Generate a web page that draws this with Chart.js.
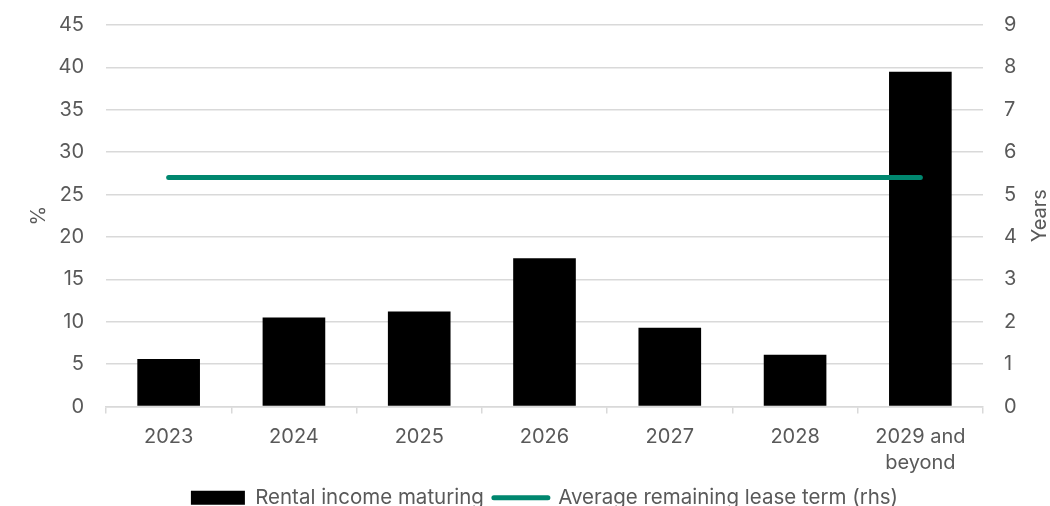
<!DOCTYPE html>
<html lang="en">
<head>
    <meta charset="UTF-8">
    <title>Rental income maturity profile</title>
    <script src="https://cdn.jsdelivr.net/npm/chart.js"></script>
    <style>
        html, body { margin: 0; padding: 0; background: #fff; overflow: hidden; }
        .wrap { width: 1050px; height: 506px; overflow: hidden; }
    </style>
</head>
<body>
    <div class="wrap">
        <canvas id="lease-chart" width="1050" height="518"></canvas>
    </div>

    <script>
        const years = ['2023', '2024', '2025', '2026', '2027', '2028', ['2029 and', 'beyond']];
        const rentalIncome = [5.6, 10.5, 11.2, 17.5, 9.3, 6.1, 39.5];
        const avgLeaseTerm = [5.4, 5.4, 5.4, 5.4, 5.4, 5.4, 5.4];

        const textColor = '#595959';
        const gridColor = '#d9d9d9';
        const teal = '#00876f';
        const font = { family: 'Inter', size: 20, lineHeight: 1.3 };

        // right-hand axis title reads bottom-to-top, so draw it by hand
        const rightTitle = {
            id: 'rightTitle',
            afterDraw(chart) {
                const ctx = chart.ctx;
                const area = chart.chartArea;
                ctx.save();
                ctx.translate(1040, (area.top + area.bottom) / 2);
                ctx.rotate(-Math.PI / 2);
                ctx.fillStyle = textColor;
                ctx.font = '20px Inter';
                ctx.textAlign = 'center';
                ctx.textBaseline = 'middle';
                ctx.fillText('Years', 0, 0);
                ctx.restore();
            }
        };

        new Chart(document.getElementById('lease-chart'), {
            data: {
                labels: years,
                datasets: [
                    {
                        type: 'line',
                        label: 'Average remaining lease term (rhs)',
                        data: avgLeaseTerm,
                        yAxisID: 'y2',
                        borderColor: teal,
                        backgroundColor: teal,
                        borderWidth: 5,
                        borderCapStyle: 'round',
                        pointRadius: 0,
                        order: 0
                    },
                    {
                        type: 'bar',
                        label: 'Rental income maturing',
                        data: rentalIncome,
                        yAxisID: 'y',
                        backgroundColor: '#000',
                        barPercentage: 0.5,
                        categoryPercentage: 1,
                        order: 1
                    }
                ]
            },
            options: {
                responsive: false,
                animation: false,
                layout: { padding: 0 },
                plugins: {
                    tooltip: { enabled: false },
                    legend: {
                        position: 'bottom',
                        fullSize: false,
                        labels: {
                            color: textColor,
                            font: { family: 'Inter', size: 20.5 },
                            usePointStyle: true,
                            pointStyleWidth: 54,
                            boxHeight: 14,
                            padding: 10,
                            generateLabels(chart) {
                                return [
                                    { text: 'Rental income maturing', pointStyle: 'rect',
                                      fillStyle: '#000', strokeStyle: '#000', lineWidth: 0,
                                      fontColor: textColor, datasetIndex: 1 },
                                    { text: 'Average remaining lease term (rhs)', pointStyle: 'line',
                                      fillStyle: teal, strokeStyle: teal, lineWidth: 5, lineCap: 'round',
                                      fontColor: textColor, datasetIndex: 0 }
                                ];
                            }
                        }
                    }
                },
                scales: {
                    x: {
                        grid: { display: true, drawOnChartArea: false, drawTicks: true,
                                tickLength: 7, color: gridColor, lineWidth: 1.5 },
                        border: { color: gridColor, width: 1.5 },
                        ticks: { color: textColor, font: font, padding: 10, maxRotation: 0 },
                        afterFit(scale) { scale.height -= 8; }
                    },
                    y: {
                        position: 'left',
                        min: 0, max: 45,
                        ticks: { stepSize: 5, color: textColor, font: font, padding: 22 },
                        grid: { color: gridColor, lineWidth: 1.5, drawTicks: false },
                        border: { display: false },
                        title: { display: true, text: '%', color: textColor, font: font,
                                 padding: { top: 26, bottom: 0 } },
                        afterFit(scale) { scale.width = 106; scale.paddingTop = 25; }
                    },
                    y2: {
                        position: 'right',
                        min: 0, max: 9,
                        ticks: { stepSize: 1, color: textColor, font: font, padding: 21 },
                        grid: { drawOnChartArea: false, drawTicks: false },
                        border: { display: false },
                        afterFit(scale) { scale.width = 67; scale.paddingTop = 25; }
                    }
                }
            },
            plugins: [rightTitle]
        });
    </script>
</body>
</html>
